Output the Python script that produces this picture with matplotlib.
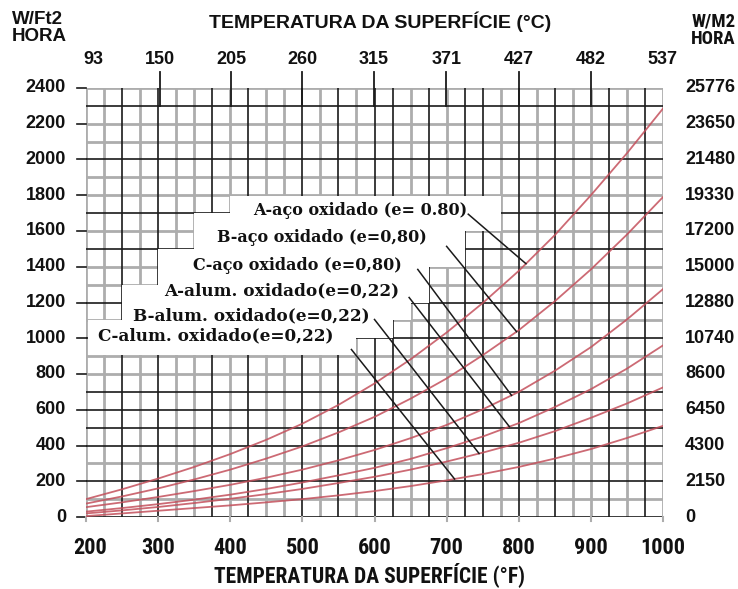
import numpy as np
import matplotlib
matplotlib.use("Agg")
import matplotlib.pyplot as plt

# ---------------- data ----------------
temp_f = [200, 250, 300, 350, 400, 450, 500, 550, 600, 650, 700, 750, 800, 850, 900, 950, 1000]
aco_a = [100, 155, 215, 280, 352, 432, 522, 627, 747, 882, 1032, 1197, 1377, 1577, 1800, 2035, 2285]
aco_b = [75, 115, 160, 210, 265, 327, 395, 473, 560, 662, 775, 905, 1045, 1207, 1385, 1580, 1790]
aco_c = [55, 82, 112, 145, 180, 220, 265, 317, 375, 441, 515, 602, 700, 818, 950, 1105, 1275]
alum_a = [30, 50, 72, 97, 125, 157, 193, 233, 275, 325, 385, 450, 525, 615, 715, 830, 960]
alum_b = [20, 37, 56, 78, 102, 128, 157, 190, 225, 265, 310, 360, 415, 480, 555, 635, 725]
alum_c = [5, 20, 35, 50, 65, 82, 100, 121, 145, 173, 205, 240, 280, 327, 380, 442, 510]

series_labels = ["A-aço oxidado (e= 0.80)", "B-aço oxidado (e=0,80)",
                 "C-aço oxidado (e=0,80)", "A-alum. oxidado(e=0,22)",
                 "B-alum. oxidado(e=0,22)", "C-alum. oxidado(e=0,22)"]

x_ticks_f = [200, 300, 400, 500, 600, 700, 800, 900, 1000]
y_ticks = [0, 200, 400, 600, 800, 1000, 1200, 1400, 1600, 1800, 2000, 2200, 2400]
y_ticks_m2 = ["0", "2150", "4300", "6450", "8600", "10740", "12880", "15000",
              "17200", "19330", "21480", "23650", "25776"]
celsius_ticks = [93, 150, 205, 260, 315, 371, 427, 482, 537]

# ---------------- figure ----------------
W, H = 738, 589
fig = plt.figure(figsize=(W / 100, H / 100), dpi=100)
fig.patch.set_facecolor("white")
ax_l, ax_r, ax_t, ax_b = 86, 663, 88, 517
ax = fig.add_axes([ax_l / W, 1 - ax_b / H, (ax_r - ax_l) / W, (ax_b - ax_t) / H])
ax.set_xlim(200, 1000)
ax.set_ylim(0, 2400)
for s in ax.spines.values():
    s.set_visible(False)
ax.set_xticks([])
ax.set_yticks([])

GRAY = "#adadad"
BLACK = "#1a1a1a"

# vertical grid (every 25 F)
black_v = {250, 300, 375, 425, 500, 550, 600, 625, 675, 725, 750, 800, 850, 925, 975}
for f in range(225, 1001, 25):
    if f in black_v:
        ax.axvline(f, color=BLACK, lw=1.2, zorder=1.2)
    else:
        ax.axvline(f, color=GRAY, lw=2.0, zorder=1)
# horizontal grid (every 100)
black_h = {0, 200, 400, 500, 600, 700, 1000, 1200, 1500, 1700, 2000, 2300}
for v in range(0, 2401, 100):
    if v in black_h:
        ax.axhline(v, color=BLACK, lw=1.2, zorder=1.2)
    else:
        ax.axhline(v, color=GRAY, lw=2.0, zorder=1)
ax.axvline(200, color=GRAY, lw=2.0, zorder=1)

# white staircase area behind labels
stair = [(400, 1795), (775, 1795), (775, 1600), (725, 1600), (725, 1400),
         (675, 1400), (675, 1200), (650, 1200), (650, 1100), (625, 1100),
         (625, 1000), (575, 1000), (575, 905), (203, 905), (203, 1100),
         (250, 1100), (250, 1300), (300, 1300), (300, 1500), (350, 1500),
         (350, 1700), (400, 1700)]
ax.add_patch(plt.Polygon(stair, closed=True, facecolor="white",
                         edgecolor="none", zorder=1.5))

# Celsius tall marks
for c in celsius_ticks[1:-1]:
    f = c * 9 / 5 + 32
    ax.plot([f, f], [2300, 2490], color=BLACK, lw=1.3, clip_on=False, zorder=1.3)

# left ticks
for v in y_ticks:
    ax.plot([200 - 12, 200], [v, v], color=BLACK, lw=1.2, clip_on=False, zorder=3)
# bottom small ticks
for f in x_ticks_f:
    ax.plot([f, f], [0, -25], color=GRAY, lw=1.5, clip_on=False, zorder=3)

# curves
curves = [aco_a, aco_b, aco_c, alum_a, alum_b, alum_c]
for ys in curves:
    ax.plot(temp_f, ys, color="#c4505c", lw=1.3, alpha=0.85, zorder=3)

# labels with leader lines
lab_left = [250, 212, 187, 158, 128, 92]       # px left edge
lab_right = [470, 432, 407, 405, 375, 340]     # px right edge
lab_y = [211, 238, 265, 291, 316, 336]         # px center
lead_start = [(730, 1694), (700, 1514), (660, 1385), (648, 1228), (600, 1105), (568, 937)]
lead_end_f = [810, 797, 790, 787, 745, 711]
serif = ["DejaVu Serif"]
for i, (lab, xl, xr, yc, ys, st, fe) in enumerate(zip(series_labels, lab_left, lab_right,
                                                      lab_y, curves, lead_start, lead_end_f)):
    size = 11.5 if i < 3 else 12.2
    fig.text((xl + xr) / 2 / W, 1 - yc / H, lab, ha="center", va="center", fontsize=size,
             fontweight="bold", family=serif, color="#111111", zorder=5)
    ye = float(np.interp(fe, temp_f, ys))
    ax.plot([st[0], fe], [st[1], ye], color=BLACK, lw=1.1, zorder=4)

sans = ["Liberation Sans", "DejaVu Sans"]
narrow = ["Liberation Sans Narrow", "Roboto Condensed", "Open Sans Condensed", "DejaVu Sans"]

def px(x, y):
    return x / W, 1 - y / H

# left tick labels
for v in y_ticks:
    ya = ax.transData.transform((200, v))[1]
    fig.text(66 / W, ya / H, str(v), ha="right", va="center", fontsize=13,
             fontweight="bold", family=sans, color="#111111")
# right tick labels
for v, t in zip(y_ticks, y_ticks_m2):
    ya = ax.transData.transform((200, v))[1]
    fig.text(685 / W, ya / H, t, ha="left", va="center", fontsize=13,
             fontweight="bold", family=sans, color="#111111")
# bottom tick labels
for f in x_ticks_f:
    xa = ax.transData.transform((f, 0))[0]
    if f == 200:
        xa += 4
    fig.text(xa / W, 1 - 548 / H, str(f), ha="center", va="center", fontsize=16,
             fontweight="bold", fontstretch="condensed", family=narrow, color="#111111")
# top celsius labels
for c in celsius_ticks:
    f = c * 9 / 5 + 32
    xa = ax.transData.transform((f, 0))[0]
    if c == 93:
        xa += 8
    fig.text(xa / W, 1 - 60 / H, str(c), ha="center", va="center", fontsize=13,
             fontweight="bold", family=sans, color="#111111")

fig.text(*px(380, 22), "TEMPERATURA DA SUPERFÍCIE (°C)", ha="center", va="center",
         fontsize=14, fontweight="bold", family=sans, color="#111111")
fig.text(*px(370, 575), "TEMPERATURA DA SUPERFÍCIE (°F)", ha="center", va="center",
         fontsize=15.5, fontweight="bold", fontstretch="condensed", family=narrow,
         color="#111111")
fig.text(*px(12, 28), "W/Ft2\nHORA", ha="left", va="center", fontsize=13.5,
         fontweight="bold", family=sans, color="#111111", linespacing=0.95)
fig.text(*px(736, 30), "W/M2\nHORA", ha="right", va="center", fontsize=13.5,
         fontweight="bold", fontstretch="condensed", family=narrow, color="#111111",
         linespacing=0.95, multialignment="left")

fig.savefig("out.png", dpi=100, facecolor="white")
